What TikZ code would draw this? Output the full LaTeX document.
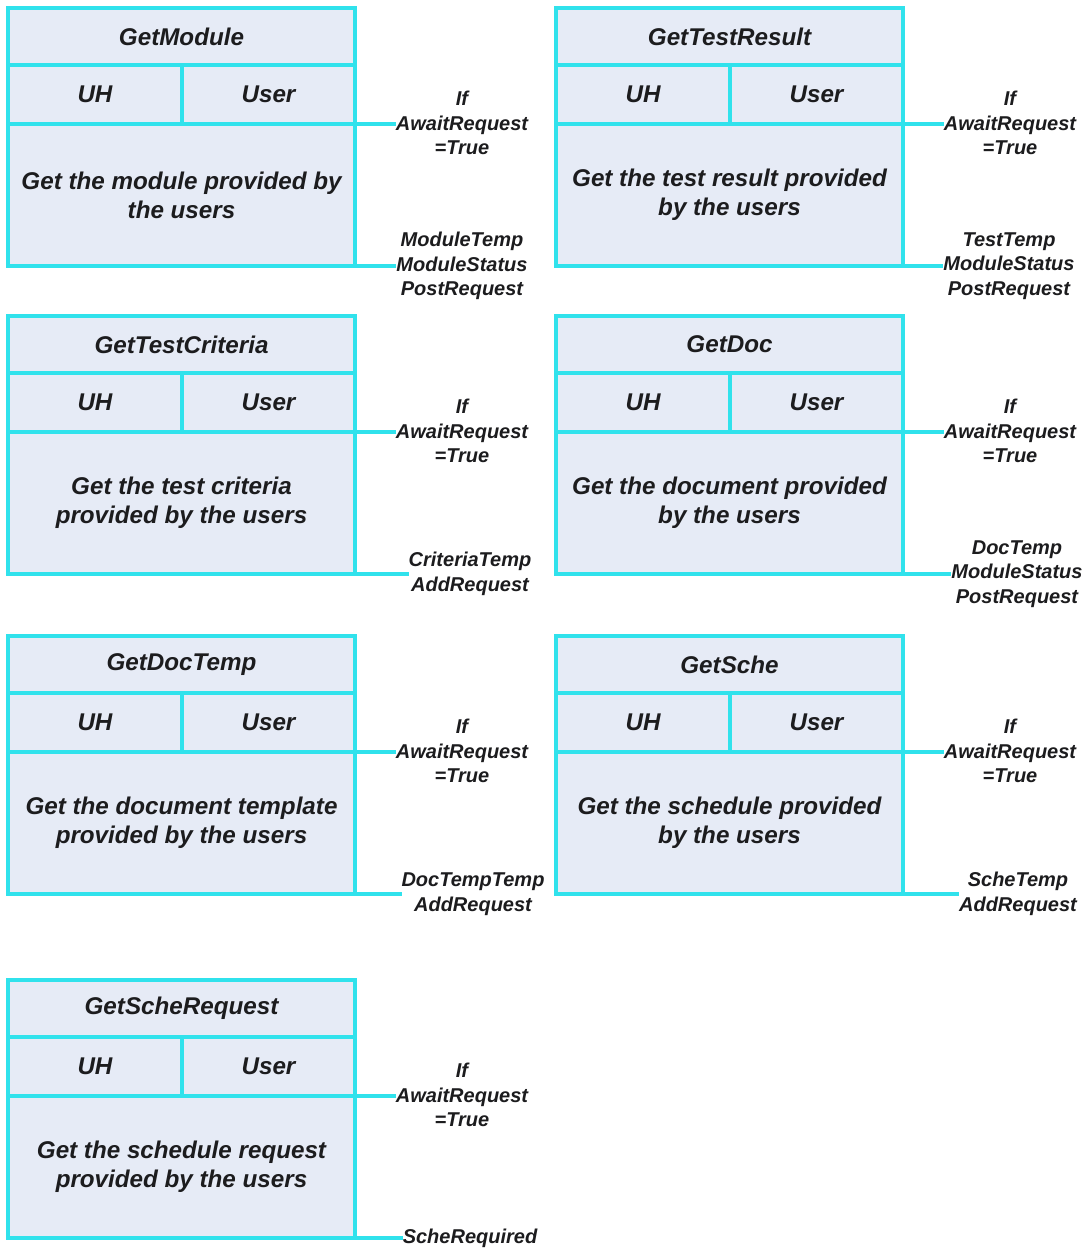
\documentclass[tikz,border=0pt]{standalone}
\usepackage{fontspec}
\setmainfont{Liberation Sans}
\usetikzlibrary{calc}
\definecolor{edge}{RGB}{48,226,236}
\definecolor{cellfill}{RGB}{230,235,246}
\definecolor{ink}{RGB}{28,28,30}
\tikzset{
  cell/.style={draw=edge, fill=cellfill, line width=4pt, outer sep=0pt, inner sep=2pt,
    text=ink, align=center, anchor=north west,
    font=\fontsize{24.2}{29}\selectfont\bfseries\itshape},
  lbl/.style={text=ink, align=center, inner sep=0pt, outer sep=0pt,
    font=\fontsize{20}{24.5}\selectfont\bfseries\itshape},
  wire/.style={draw=edge, line width=4pt}
}
\newcommand{\ublock}[7]{%
  \node[cell, minimum width=347pt, minimum height=57pt] (#1t) at (#2,#3) {#4};
  \node[cell, minimum width=174pt, minimum height=59pt] (#1a) at (#1t.south west) {UH};
  \node[cell, minimum width=173pt, minimum height=59pt] (#1b) at (#1a.north east) {User};
  \node[cell, minimum width=347pt, minimum height=142pt] (#1c) at (#1a.south west) {#5};
  \node[lbl] (#1i) at ($(#1c.north east)+(107,-1)$) {If\\AwaitRequest\\=True};
  \node[lbl] (#1o) at ($(#1c.south east)+(#7,0)$) {#6};
  \draw[wire] (#1c.north east) -- (#1c.north east -| #1i.west);
  \draw[wire] (#1c.south east) -- (#1c.south east -| #1o.west);
}
\begin{document}
\begin{tikzpicture}[x=1pt,y=-1pt]
\useasboundingbox[fill=white] (0,0) rectangle (1085,1251);
\ublock{gm}{8}{8}{GetModule}{Get the module provided by\\the users}{ModuleTemp\\ModuleStatus\\PostRequest}{107}
\ublock{gr}{556}{8}{GetTestResult}{Get the test result provided\\by the users}{TestTemp\\ModuleStatus\\PostRequest}{106}
\ublock{gc}{8}{316}{GetTestCriteria}{Get the test criteria\\provided by the users}{CriteriaTemp\\AddRequest}{115}
\ublock{gd}{556}{316}{GetDoc}{Get the document provided\\by the users}{DocTemp\\ModuleStatus\\PostRequest}{114}
\ublock{gdt}{8}{636}{GetDocTemp}{Get the document template\\provided by the users}{DocTempTemp\\AddRequest}{118}
\ublock{gs}{556}{636}{GetSche}{Get the schedule provided\\by the users}{ScheTemp\\AddRequest}{115}
\ublock{gsr}{8}{980}{GetScheRequest}{Get the schedule request\\provided by the users}{ScheRequired}{115}
\end{tikzpicture}
\end{document}
